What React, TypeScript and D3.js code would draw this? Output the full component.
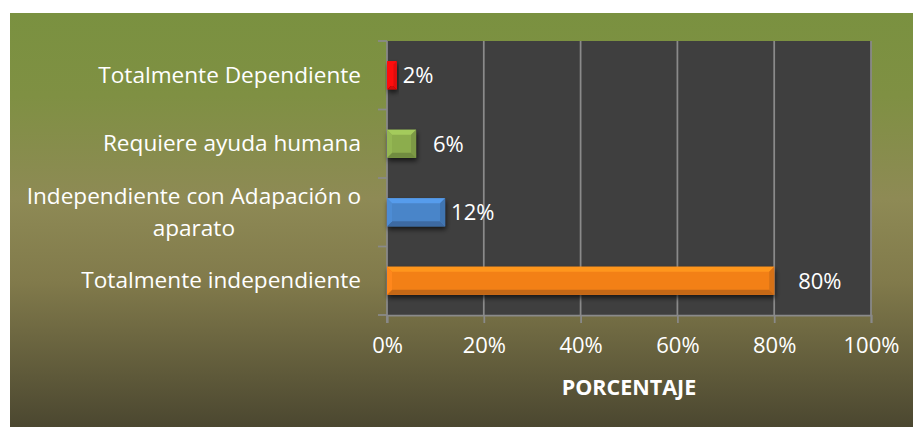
import * as d3 from 'd3';
import { useEffect, useRef } from 'react';

const categories = [
  'Totalmente Dependiente',
  'Requiere ayuda humana',
  'Independiente con Adapación o aparato',
  'Totalmente independiente',
];
const values = [0.02, 0.06, 0.12, 0.8];
const valueLabels = ['2%', '6%', '12%', '80%'];
const barColors = ['#ff0a0a', '#8cad4e', '#4a85c9', '#f38019'];
const xTicks = [0, 0.2, 0.4, 0.6, 0.8, 1];
const axisTitle = 'PORCENTAJE';

// gap between bar end and its value label (the labels were nudged by hand)
const labelGap = [6, 17, 6, 24];

const W = 913;
const H = 427;
const FONT = '"Open Sans", sans-serif';

export default function App() {
  const svgRef = useRef<SVGSVGElement>(null);

  useEffect(() => {
    if (!svgRef.current) return;
    const svg = d3.select(svgRef.current);
    svg.selectAll('*').remove();

    const defs = svg.append('defs');
    const bg = defs
      .append('linearGradient')
      .attr('id', 'bg')
      .attr('x1', 0)
      .attr('y1', 0)
      .attr('x2', 0)
      .attr('y2', 1);
    [
      [0, '#7a9140'],
      [0.2, '#7f9043'],
      [0.45, '#8e8a55'],
      [0.65, '#817a4b'],
      [1, '#4b4730'],
    ].forEach(([o, c]) =>
      bg.append('stop').attr('offset', o as number).attr('stop-color', c as string),
    );

    const shadow = defs
      .append('filter')
      .attr('id', 'shadow')
      .attr('x', '-20%')
      .attr('y', '-30%')
      .attr('width', '140%')
      .attr('height', '180%');
    shadow
      .append('feDropShadow')
      .attr('dx', 1)
      .attr('dy', 3)
      .attr('stdDeviation', 2.5)
      .attr('flood-color', '#000')
      .attr('flood-opacity', 0.65);

    svg
      .append('rect')
      .attr('x', 10)
      .attr('y', 13)
      .attr('width', W - 10)
      .attr('height', H - 13)
      .attr('fill', 'url(#bg)');

    const plot = { left: 387, right: 871, top: 41, bottom: 315 };
    const x = d3.scaleLinear().domain([0, 1]).range([plot.left, plot.right]);
    const y = d3
      .scaleBand()
      .domain(categories)
      .range([plot.top, plot.bottom])
      .paddingInner(0.59)
      .paddingOuter(0.295);

    svg
      .append('rect')
      .attr('x', plot.left)
      .attr('y', plot.top)
      .attr('width', plot.right - plot.left)
      .attr('height', plot.bottom - plot.top)
      .attr('fill', '#3f3f3f');

    const grey = '#8a8a8a';

    // vertical gridlines
    svg
      .append('g')
      .selectAll('line')
      .data(xTicks.slice(1))
      .enter()
      .append('line')
      .attr('x1', (d) => x(d))
      .attr('x2', (d) => x(d))
      .attr('y1', plot.top)
      .attr('y2', plot.bottom)
      .attr('stroke', grey)
      .attr('stroke-width', 1.75);

    // bottom axis
    const xAxis = svg
      .append('g')
      .attr('transform', `translate(0,${plot.bottom})`)
      .call(
        d3
          .axisBottom(x)
          .tickValues(xTicks)
          .tickSize(8)
          .tickPadding(14)
          .tickFormat(d3.format('.0%')),
      );
    xAxis.select('.domain').attr('stroke', grey).attr('stroke-width', 1.75);
    xAxis.selectAll('.tick line').attr('stroke', grey).attr('stroke-width', 1.75);
    xAxis
      .selectAll('text')
      .attr('fill', '#fff')
      .style('font-family', FONT)
      .style('font-size', '22px');

    // left axis: line and ticks on category boundaries
    const step = y.step();
    const boundaries = d3.range(categories.length + 1).map((i) => plot.top + i * step);
    const yAxis = svg.append('g');
    yAxis
      .append('line')
      .attr('x1', plot.left)
      .attr('x2', plot.left)
      .attr('y1', plot.top)
      .attr('y2', plot.bottom + 8)
      .attr('stroke', grey)
      .attr('stroke-width', 1.75);
    yAxis
      .selectAll('line.tk')
      .data(boundaries)
      .enter()
      .append('line')
      .attr('class', 'tk')
      .attr('x1', plot.left - 9)
      .attr('x2', plot.left)
      .attr('y1', (d) => d)
      .attr('y2', (d) => d)
      .attr('stroke', grey)
      .attr('stroke-width', 1.75);

    // category labels, wrapped and centred like Excel does
    const labelRight = 361;
    const maxWidth = 345;
    const lineH = 32;
    categories.forEach((cat) => {
      const cy = (y(cat) || 0) + y.bandwidth() / 2;
      const t = svg
        .append('text')
        .attr('fill', '#fff')
        .style('font-family', FONT)
        .style('font-size', '22.6px');
      const words = cat.split(' ');
      const lines: string[] = [];
      let cur = '';
      const probe = t.append('tspan');
      words.forEach((w) => {
        const test = cur ? `${cur} ${w}` : w;
        probe.text(test);
        if ((probe.node() as SVGTSpanElement).getComputedTextLength() > maxWidth && cur) {
          lines.push(cur);
          cur = w;
        } else cur = test;
      });
      lines.push(cur);
      probe.remove();

      const widths = lines.map((l) => {
        const s = t.append('tspan').text(l);
        const wd = (s.node() as SVGTSpanElement).getComputedTextLength();
        s.remove();
        return wd;
      });
      const maxW = d3.max(widths) || 0;
      const n = lines.length;
      const cx = labelRight - maxW / 2;
      lines.forEach((l, i) => {
        t.append('tspan')
          .attr('x', n > 1 ? cx : labelRight)
          .attr('text-anchor', n > 1 ? 'middle' : 'end')
          .attr('y', cy + 7.5 + (i - (n - 1) / 2) * lineH)
          .text(l);
      });
    });

    // bevelled bars
    const bars = svg.append('g');
    categories.forEach((cat, i) => {
      const x0 = x(0);
      const x1 = x(values[i]);
      const y0 = y(cat) || 0;
      const y1 = y0 + y.bandwidth();
      const w = x1 - x0;
      const b = Math.min(5, w / 3);
      const base = d3.color(barColors[i])!;
      const g = bars.append('g').attr('filter', 'url(#shadow)');
      g.append('rect')
        .attr('x', x0)
        .attr('y', y0)
        .attr('width', w)
        .attr('height', y1 - y0)
        .attr('fill', base.formatHex());
      const poly = (pts: number[][], fill: string) =>
        g.append('polygon').attr('points', pts.map((p) => p.join(',')).join(' ')).attr('fill', fill);
      poly([[x0, y0], [x1, y0], [x1 - b, y0 + b], [x0 + b, y0 + b]], base.brighter(0.45).formatHex());
      poly([[x0, y1], [x1, y1], [x1 - b, y1 - b], [x0 + b, y1 - b]], base.darker(0.6).formatHex());
      poly([[x0, y0], [x0 + b, y0 + b], [x0 + b, y1 - b], [x0, y1]], base.brighter(0.15).formatHex());
      poly([[x1, y0], [x1 - b, y0 + b], [x1 - b, y1 - b], [x1, y1]], base.darker(0.35).formatHex());
    });

    // value labels
    svg
      .append('g')
      .selectAll('text')
      .data(categories)
      .enter()
      .append('text')
      .attr('x', (d, i) => x(values[i]) + labelGap[i])
      .attr('y', (d) => (y(d) || 0) + y.bandwidth() / 2 + 8)
      .attr('fill', '#fff')
      .style('font-family', FONT)
      .style('font-size', '22px')
      .text((d, i) => valueLabels[i]);

    // axis title
    svg
      .append('text')
      .attr('x', (plot.left + plot.right) / 2)
      .attr('y', 395)
      .attr('text-anchor', 'middle')
      .attr('fill', '#fff')
      .style('font-family', FONT)
      .style('font-size', '21.5px')
      .style('font-weight', 'bold')
      .text(axisTitle);
  }, []);

  return (
    <svg
      ref={svgRef}
      width={W}
      height={H}
      style={{ position: 'absolute', left: 0, top: 0, background: '#fff' }}
    ></svg>
  );
}
